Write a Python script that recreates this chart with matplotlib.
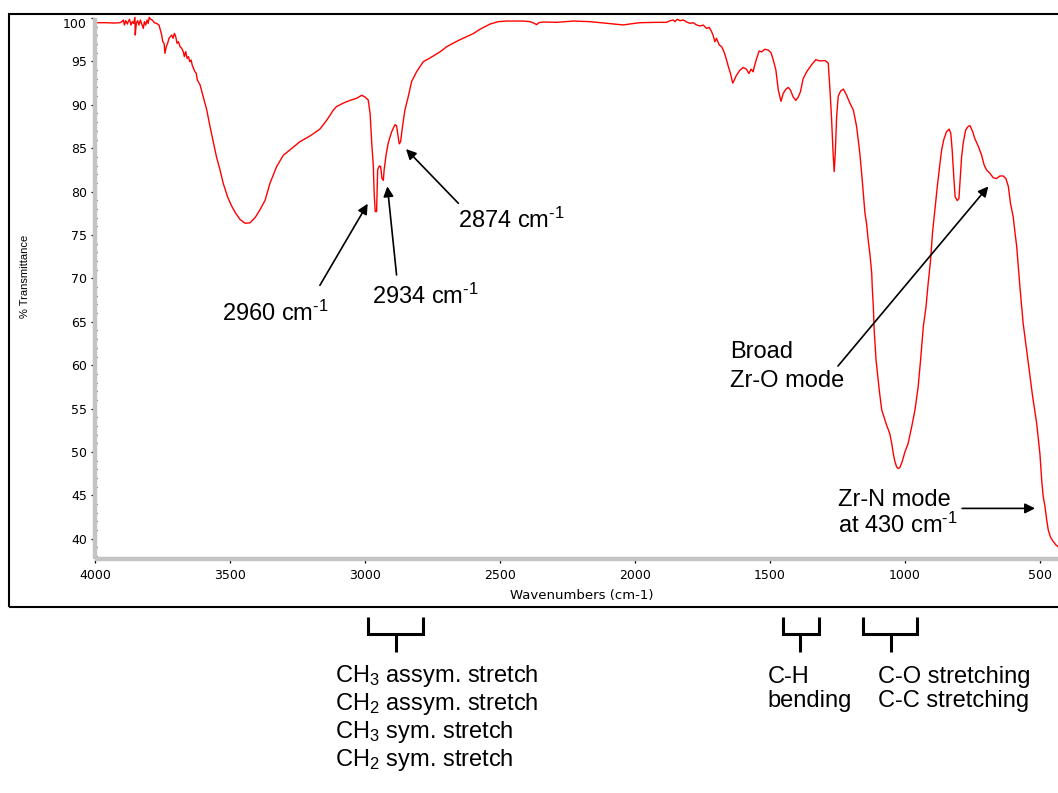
import matplotlib
matplotlib.use("Agg")
import matplotlib.pyplot as plt
from matplotlib.lines import Line2D
from matplotlib.patches import Rectangle
from matplotlib.ticker import MultipleLocator
from matplotlib.transforms import ScaledTranslation

plt.rcParams['font.family'] = ['Liberation Sans', 'DejaVu Sans']
plt.rcParams['mathtext.fontset'] = 'custom'
plt.rcParams['mathtext.rm'] = 'Liberation Sans'
plt.rcParams['mathtext.it'] = 'Liberation Sans:italic'
plt.rcParams['mathtext.bf'] = 'Liberation Sans:bold'

W, H = 1058, 793

# FTIR spectrum: wavenumber (cm-1) and % transmittance
wavenumber = [
    4000, 3960, 3930, 3907, 3901, 3895, 3891, 3886, 3880, 3877, 3872, 3867,
    3862, 3857, 3852, 3851, 3847, 3842, 3837, 3832, 3827, 3821, 3817, 3812,
    3807, 3803, 3799, 3794, 3788, 3780, 3772, 3763, 3758, 3753, 3749, 3744,
    3741, 3736, 3731, 3726, 3721, 3716, 3711, 3706, 3701, 3696, 3691, 3685,
    3679, 3673, 3669, 3664, 3659, 3654, 3649, 3644, 3640, 3635, 3630, 3625,
    3621, 3611, 3605, 3599, 3586, 3574, 3562, 3550, 3537, 3525, 3509, 3495,
    3481, 3463, 3444, 3426, 3407, 3389, 3370, 3352, 3327, 3302, 3278, 3241,
    3204, 3167, 3140, 3117, 3105, 3080, 3056, 3031, 3012, 3000, 2988, 2981,
    2975, 2969, 2966, 2962, 2957, 2953, 2947, 2942, 2937, 2932, 2929, 2922,
    2914, 2901, 2889, 2883, 2878, 2873, 2868, 2861, 2852, 2840, 2827, 2809,
    2784, 2759, 2722, 2697, 2673, 2648, 2623, 2599, 2574, 2537, 2506, 2475,
    2415, 2389, 2373, 2364, 2356, 2340, 2290, 2228, 2167, 2105, 2068, 2043,
    2019, 1981, 1920, 1883, 1870, 1858, 1852, 1843, 1833, 1821, 1809, 1796,
    1784, 1772, 1759, 1747, 1735, 1725, 1716, 1711, 1704, 1698, 1688, 1679,
    1670, 1661, 1654, 1646, 1638, 1632, 1624, 1611, 1599, 1587, 1578, 1570,
    1562, 1558, 1549, 1540, 1531, 1519, 1506, 1496, 1488, 1478, 1469, 1459,
    1451, 1441, 1432, 1424, 1414, 1404, 1395, 1387, 1377, 1364, 1346, 1330,
    1315, 1296, 1284, 1278, 1272, 1266, 1262, 1258, 1253, 1247, 1238, 1228,
    1216, 1204, 1191, 1179, 1167, 1160, 1154, 1148, 1142, 1136, 1130, 1123,
    1121, 1117, 1114, 1107, 1102, 1095, 1086, 1068, 1056, 1049, 1043, 1037,
    1031, 1025, 1019, 1010, 1000, 988, 975, 963, 951, 942, 932, 922,
    914, 905, 898, 889, 880, 870, 864, 856, 846, 836, 830, 825,
    819, 814, 806, 800, 795, 790, 784, 775, 766, 759, 749, 741,
    728, 716, 707, 698, 685, 673, 661, 648, 636, 626, 617, 609,
    599, 592, 586, 574, 562, 543, 527, 512, 500, 493, 488, 481,
    475, 469, 461, 451, 441, 433,
]
transmittance = [
    99.46, 99.46, 99.42, 99.46, 99.58, 99.77, 99.19, 99.69, 99.31, 99.58, 99.85, 99.19,
    99.58, 99.38, 100.08, 98.04, 99.38, 99.69, 99.19, 99.77, 99.31, 98.81, 99.58, 99.19,
    99.77, 99.38, 100.08, 99.85, 99.77, 99.46, 99.38, 99.19, 98.62, 98.04, 97.27, 97.08,
    95.93, 96.70, 97.08, 97.66, 97.85, 98.04, 97.66, 98.23, 97.85, 97.08, 97.27, 96.70,
    96.51, 96.12, 95.55, 96.12, 95.35, 95.55, 94.97, 95.16, 94.58, 94.20, 93.82, 93.63,
    92.86, 92.30, 91.60, 90.90, 89.40, 87.50, 85.75, 84.00, 82.50, 80.95, 79.40, 78.40,
    77.60, 76.80, 76.35, 76.40, 77.00, 77.90, 79.00, 80.95, 82.90, 84.20, 84.80, 85.75,
    86.40, 87.20, 88.30, 89.40, 89.80, 90.20, 90.50, 90.75, 91.10, 90.90, 90.55, 89.00,
    85.60, 82.90, 79.80, 77.70, 77.70, 82.50, 82.95, 82.90, 81.50, 81.30, 82.50, 84.20,
    85.60, 86.90, 87.70, 87.60, 86.50, 85.50, 85.75, 87.50, 89.40, 90.90, 92.70, 93.80,
    94.97, 95.40, 96.10, 96.70, 97.10, 97.50, 97.85, 98.20, 98.70, 99.30, 99.58, 99.65,
    99.65, 99.58, 99.39, 99.23, 99.46, 99.54, 99.50, 99.65, 99.58, 99.39, 99.27, 99.20,
    99.31, 99.46, 99.50, 99.50, 99.69, 99.77, 99.58, 99.85, 99.69, 99.77, 99.54, 99.39,
    99.46, 99.20, 99.08, 99.19, 98.80, 98.92, 98.42, 98.04, 97.27, 97.66, 96.90, 96.70,
    96.10, 95.20, 94.40, 93.60, 92.50, 92.86, 93.40, 94.00, 94.30, 94.10, 93.60, 94.10,
    93.80, 94.40, 95.35, 96.20, 96.10, 96.40, 96.30, 96.00, 95.20, 94.00, 91.70, 90.40,
    91.30, 91.80, 92.00, 91.70, 90.90, 90.50, 90.90, 91.50, 93.00, 93.80, 94.60, 95.20,
    95.05, 95.10, 94.80, 91.90, 88.60, 84.40, 82.30, 84.40, 88.60, 91.00, 91.60, 91.80,
    91.10, 90.20, 89.40, 87.50, 84.40, 82.00, 79.80, 77.50, 76.30, 74.40, 72.90, 70.60,
    69.00, 66.70, 64.10, 60.60, 59.10, 57.10, 54.85, 53.10, 52.10, 51.00, 49.80, 48.90,
    48.30, 48.10, 48.20, 48.90, 50.00, 51.00, 52.90, 54.80, 57.50, 60.60, 64.40, 66.70,
    69.40, 72.10, 75.20, 77.90, 80.60, 83.30, 84.80, 86.00, 86.90, 87.20, 86.70, 84.80,
    81.70, 79.40, 78.96, 79.20, 81.70, 84.00, 85.60, 87.10, 87.50, 87.60, 86.90, 86.10,
    85.20, 84.20, 83.10, 82.50, 82.10, 81.60, 81.50, 81.80, 81.80, 81.50, 80.60, 78.65,
    77.10, 75.20, 73.70, 69.00, 64.80, 60.20, 56.40, 53.30, 49.80, 46.60, 44.90, 43.70,
    42.20, 41.00, 40.20, 39.70, 39.30, 39.10,
]

x_ticks = [4000, 3500, 3000, 2500, 2000, 1500, 1000, 500]
y_ticks = [40, 45, 50, 55, 60, 65, 70, 75, 80, 85, 90, 95, 100]

peak_labels = ["2960 cm$^{\\text{-1}}$", "2934 cm$^{\\text{-1}}$", "2874 cm$^{\\text{-1}}$"]
zro_label = ["Broad", "Zr-O mode"]
zrn_label = ["Zr-N mode", "at 430 cm$^{\\text{-1}}$"]
group_ch = ["CH$_{\\mathrm{3}}$ assym. stretch", "CH$_{\\mathrm{2}}$ assym. stretch",
            "CH$_{\\mathrm{3}}$ sym. stretch", "CH$_{\\mathrm{2}}$ sym. stretch"]
group_bend = ["C-H", "bending"]
group_co = ["C-O stretching", "C-C stretching"]


def fx(px):
    return px / W


def fy(py):
    return 1 - py / H


fig = plt.figure(figsize=(W / 100, H / 100), dpi=100)
ax = fig.add_axes([fx(95), fy(559), fx(1058) - fx(95), fy(18) - fy(559)])

ax.plot(wavenumber, transmittance, color='#ff0000', lw=1.0, clip_on=False)
ax.set_xlim(4000, 433)
ax.set_ylim(37.67, 100.0)

ax.set_xticks(x_ticks)
ax.set_yticks(y_ticks)
ax.xaxis.set_minor_locator(MultipleLocator(100))
ax.yaxis.set_minor_locator(MultipleLocator(1))

for side in ('top', 'right'):
    ax.spines[side].set_visible(False)
for side in ('left', 'bottom'):
    ax.spines[side].set_color('#c4c4c4')
    ax.spines[side].set_linewidth(3.2)
    ax.spines[side].set_capstyle('butt')

ax.tick_params(which='major', direction='out', length=3.2, width=0.9, color='black',
               labelsize=9, labelfontfamily='DejaVu Sans')
ax.tick_params(axis='y', which='major', pad=2.6)
ax.tick_params(axis='x', which='major', pad=4.2)
ax.tick_params(which='minor', direction='in', length=1.2, width=0.9, color='black')

# the top "100" label sits a little below its tick
top_label = ax.get_yticklabels()[-1]
top_label.set_transform(top_label.get_transform() + ScaledTranslation(0, -5 / 100, fig.dpi_scale_trans))

fig.text(fx(25), fy(276.5), '% Transmittance', rotation=90, ha='center', va='center',
         fontsize=8, family='Liberation Sans')
fig.text(fx(581.7), fy(596), 'Wavenumbers (cm-1)', ha='center', va='center',
         fontsize=9.5, family='DejaVu Sans')

# outer frame around the plot panel
fig.add_artist(Rectangle((fx(9), fy(607.3)), fx(1064) - fx(9), fy(14) - fy(607.3),
                         transform=fig.transFigure, fill=False, ec='black', lw=1.5))

arrow_kw = dict(arrowstyle='-|>', color='black', lw=1.2, mutation_scale=15,
                shrinkA=0, shrinkB=0)
tsize = 17

# C-H stretch peaks
ax.annotate('', xy=(2990, 78.6), xytext=(3167, 69.2), arrowprops=arrow_kw, annotation_clip=False)
ax.annotate('', xy=(2917, 80.6), xytext=(2883, 70.4), arrowprops=arrow_kw, annotation_clip=False)
ax.annotate('', xy=(2848, 84.9), xytext=(2654, 78.65), arrowprops=arrow_kw, annotation_clip=False)
ax.text(3531, 65.1, peak_labels[0], fontsize=tsize, ha='left', va='baseline')
ax.text(2975, 67.1, peak_labels[1], fontsize=tsize, ha='left', va='baseline')
ax.text(2654, 75.8, peak_labels[2], fontsize=tsize, ha='left', va='baseline')

# Zr-O band
ax.annotate('', xy=(691, 80.6), xytext=(1248, 59.9), arrowprops=arrow_kw, annotation_clip=False)
ax.text(1648, 60.8, zro_label[0], fontsize=tsize, ha='left', va='baseline')
ax.text(1648, 57.5, zro_label[1], fontsize=tsize, ha='left', va='baseline')

# Zr-N band
ax.annotate('', xy=(518, 43.5), xytext=(788, 43.5), arrowprops=arrow_kw, annotation_clip=False)
ax.text(1247, 43.78, zrn_label[0], fontsize=tsize, ha='left', va='baseline')
ax.text(1247, 40.63, zrn_label[1], fontsize=tsize, ha='left', va='baseline')


def bracket(x0, x1, xs, ytop=617.3, ybot=634.3, ystem=652.3):
    fig.add_artist(Line2D([fx(x0), fx(x0), fx(x1), fx(x1)],
                          [fy(ytop), fy(ybot), fy(ybot), fy(ytop)],
                          transform=fig.transFigure, color='black', lw=2.2,
                          solid_joinstyle='miter', solid_capstyle='butt'))
    fig.add_artist(Line2D([fx(xs), fx(xs)], [fy(ybot), fy(ystem)],
                          transform=fig.transFigure, color='black', lw=2.2,
                          solid_capstyle='butt'))


bracket(368.3, 422.7, 396)
bracket(782.7, 819.3, 800)
bracket(862.7, 916.7, 890.7)

for i, line in enumerate(group_ch):
    fig.text(fx(335), fy(681.7 + 28.2 * i), line, fontsize=tsize, ha='left', va='baseline')
for i, line in enumerate(group_bend):
    fig.text(fx(767.7), fy(683.3 + 23.8 * i), line, fontsize=tsize, ha='left', va='baseline')
for i, line in enumerate(group_co):
    fig.text(fx(878.3), fy(683.3 + 23.8 * i), line, fontsize=tsize, ha='left', va='baseline')

fig.savefig('out.png', dpi=100)
